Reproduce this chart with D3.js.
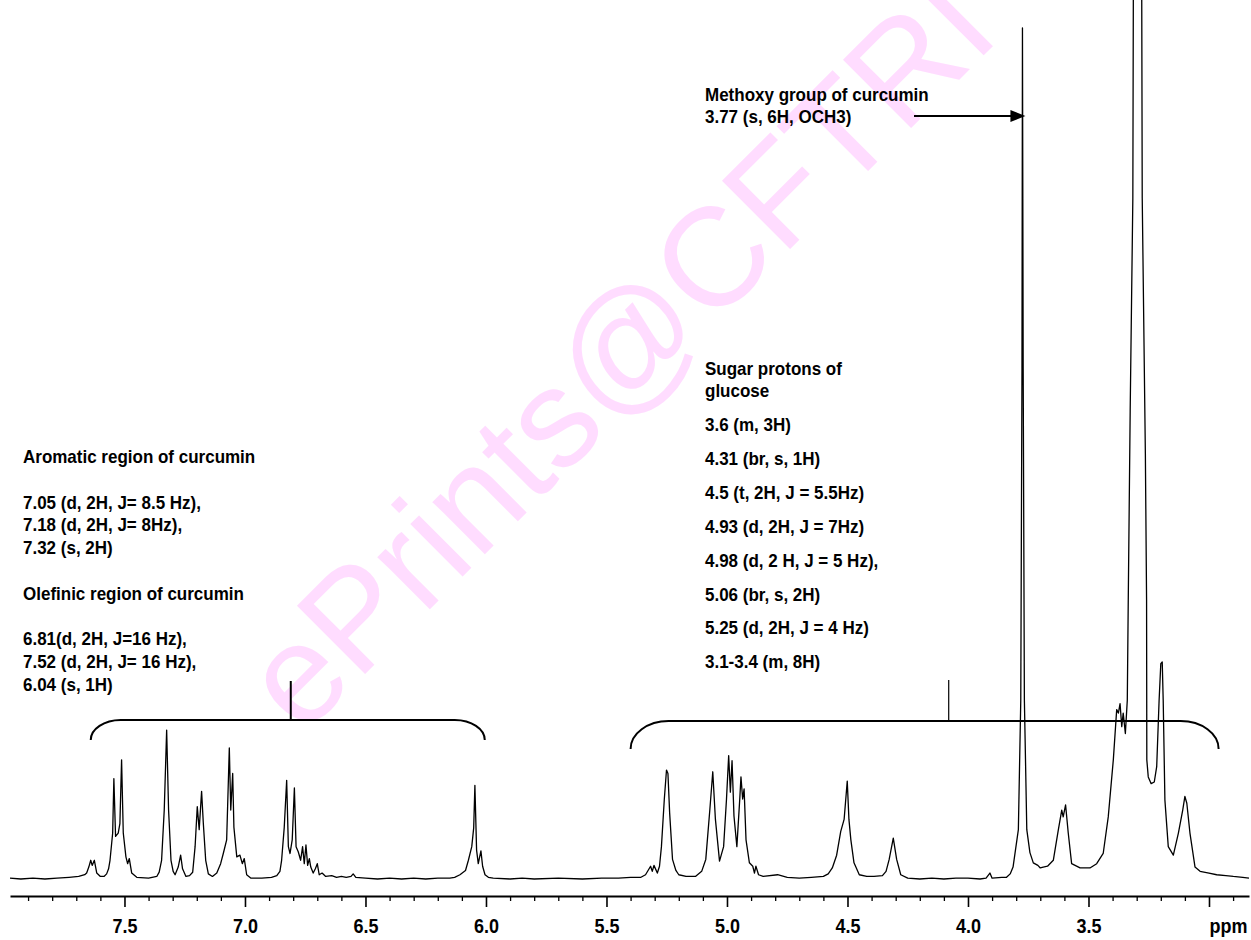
<!DOCTYPE html>
<html>
<head>
<meta charset="utf-8">
<script src="https://cdn.jsdelivr.net/npm/d3@7"></script>
<style>
  html, body { margin: 0; padding: 0; background: #fff; }
  svg { display: block; }
  text { font-family: "Liberation Sans", Arial, sans-serif; font-weight: bold; fill: #000; }
</style>
</head>
<body>
<div id="chart"></div>
<script>
// 1H NMR trace: [ppm, relative intensity] (methoxy singlet = 100)
const aromaticRegion = [
  [7.975, 0.1], [7.93, 0.0], [7.88, 0.1], [7.83, 0.0], [7.78, 0.1], [7.73, 0.2], [7.69, 0.3],
  [7.665, 0.5], [7.657, 0.7], [7.648, 1.4], [7.640, 2.2], [7.634, 1.6], [7.625, 2.2], [7.615, 0.7],
  [7.600, 0.3], [7.585, 0.3], [7.574, 0.6], [7.566, 1.2], [7.560, 2.2], [7.549, 5.4], [7.544, 11.8],
  [7.537, 5.0], [7.526, 5.4], [7.519, 6.5], [7.512, 14.0], [7.505, 5.4], [7.494, 2.6], [7.487, 1.8],
  [7.480, 2.4], [7.470, 0.7], [7.449, 0.2], [7.40, 0.1], [7.366, 0.3], [7.356, 0.8], [7.346, 2.2],
  [7.335, 8.1], [7.325, 17.5], [7.317, 8.1], [7.307, 2.2], [7.298, 0.9], [7.290, 0.5], [7.277, 1.4],
  [7.267, 2.8], [7.259, 1.2], [7.245, 0.3], [7.230, 0.4], [7.217, 0.8], [7.207, 3.8], [7.198, 8.5],
  [7.190, 5.8], [7.180, 10.3], [7.173, 6.6], [7.163, 2.2], [7.152, 0.6], [7.135, 0.3], [7.117, 0.7],
  [7.101, 1.8], [7.090, 3.0], [7.076, 4.6], [7.065, 15.4], [7.059, 8.1], [7.051, 12.4], [7.046, 6.1],
  [7.034, 2.6], [7.021, 2.8], [7.011, 1.8], [7.003, 2.4], [6.993, 0.5], [6.975, 0.1]
];

const olefinicRegion = [
  [6.93, 0.1], [6.89, 0.2], [6.868, 0.4], [6.855, 0.9], [6.848, 2.2], [6.837, 6.1], [6.827, 11.6],
  [6.820, 3.8], [6.813, 3.0], [6.804, 4.6], [6.795, 10.7], [6.788, 3.8], [6.779, 3.2], [6.769, 2.2],
  [6.761, 3.8], [6.754, 1.8], [6.747, 4.0], [6.740, 1.6], [6.733, 2.4], [6.727, 1.4], [6.717, 0.7],
  [6.708, 1.2], [6.700, 1.8], [6.692, 0.5], [6.68, 0.7], [6.665, 0.3], [6.64, 0.4], [6.62, 0.2],
  [6.60, 0.3], [6.58, 0.2], [6.56, 0.3], [6.551, 0.6], [6.54, 0.2], [6.50, 0.1], [6.45, 0.0],
  [6.40, 0.1], [6.35, 0.0], [6.30, 0.1], [6.25, 0.0], [6.20, 0.1], [6.15, 0.1], [6.13, 0.2],
  [6.108, 0.5], [6.085, 1.0], [6.073, 2.2], [6.059, 3.8], [6.051, 6.0], [6.046, 11.0], [6.039, 3.4],
  [6.032, 1.8], [6.021, 3.3], [6.014, 1.5], [6.004, 0.5], [5.99, 0.2], [5.97, 0.1], [5.90, 0.0],
  [5.85, 0.1], [5.80, 0.0], [5.70, 0.1], [5.60, 0.0], [5.52, 0.1]
];

const sugarRegion = [
  [5.45, 0.1], [5.40, 0.2], [5.357, 0.2], [5.338, 0.5], [5.317, 1.5], [5.310, 0.9], [5.303, 1.6],
  [5.289, 0.7], [5.280, 1.5], [5.272, 3.8], [5.260, 9.4], [5.251, 12.8], [5.245, 12.4], [5.238, 7.8],
  [5.226, 2.3], [5.212, 1.0], [5.200, 0.5], [5.17, 0.3], [5.131, 0.3], [5.105, 0.9], [5.088, 2.3],
  [5.071, 8.2], [5.059, 12.6], [5.048, 7.0], [5.031, 2.1], [5.014, 3.8], [5.002, 9.4], [4.993, 14.5],
  [4.986, 10.2], [4.979, 13.9], [4.971, 7.4], [4.959, 3.8], [4.947, 9.4], [4.942, 12.0], [4.935, 9.4],
  [4.929, 10.6], [4.921, 4.6], [4.907, 1.9], [4.893, 1.5], [4.886, 0.7], [4.880, 1.5], [4.869, 0.5],
  [4.85, 0.3], [4.79, 0.5], [4.75, 0.2], [4.70, 0.1], [4.65, 0.2], [4.60, 0.3], [4.58, 0.6],
  [4.563, 1.3], [4.545, 2.8], [4.528, 5.6], [4.514, 7.0], [4.501, 11.5], [4.494, 7.0], [4.486, 4.6],
  [4.473, 1.9], [4.451, 0.5], [4.42, 0.3], [4.39, 0.3], [4.355, 0.4], [4.340, 0.9], [4.327, 2.3],
  [4.310, 4.8], [4.296, 2.3], [4.279, 0.5], [4.25, 0.1], [4.20, 0.0], [4.15, 0.1], [4.10, 0.0],
  [4.05, 0.1], [4.00, 0.1], [3.95, 0.0], [3.925, 0.1], [3.909, 0.7], [3.90, 0.1], [3.86, 0.2]
];

const methoxyRegion = [
  [3.84, 0.2], [3.825, 0.6], [3.813, 1.4], [3.791, 5.8], [3.781, 21.0], [3.776, 60], [3.774, 100],
  [3.771, 60], [3.766, 21.0], [3.756, 5.8], [3.743, 3.1], [3.729, 1.9], [3.71, 1.6], [3.700, 1.3],
  [3.688, 1.4], [3.67, 1.5], [3.660, 1.8], [3.646, 2.2], [3.625, 5.8], [3.611, 8.1], [3.605, 7.3],
  [3.595, 8.7], [3.584, 5.4], [3.570, 1.8], [3.535, 1.3], [3.494, 1.3], [3.466, 1.8], [3.439, 3.0],
  [3.418, 7.3], [3.397, 14.0], [3.383, 19.9], [3.376, 19.5], [3.369, 20.6], [3.362, 17.9],
  [3.356, 19.5], [3.347, 17.1], [3.339, 21.0], [3.335, 32.8], [3.327, 55], [3.316, 80], [3.314, 103],
  [3.311, 140], [3.282, 140], [3.279, 103], [3.277, 80], [3.264, 50], [3.259, 32.8], [3.258, 14.0],
  [3.252, 12.0], [3.240, 11.2], [3.227, 11.4], [3.217, 13.2], [3.207, 21.0], [3.200, 25.3],
  [3.194, 25.5], [3.190, 21.0], [3.183, 9.3], [3.169, 3.8], [3.148, 2.8], [3.127, 5.4], [3.109, 8.1],
  [3.100, 9.7], [3.092, 8.9], [3.079, 5.4], [3.058, 1.4], [3.037, 0.9], [3.00, 0.7], [2.968, 0.5],
  [2.93, 0.4], [2.899, 0.3], [2.86, 0.2], [2.834, 0.1]
];

// axis ticks
const majorTicks = [7.5, 7.0, 6.5, 6.0, 5.5, 5.0, 4.5, 4.0, 3.5, 3.0];
const majorLabels = ['7.5', '7.0', '6.5', '6.0', '5.5', '5.0', '4.5', '4.0', '3.5', 'ppm'];
const minorTicks = [7.9, 7.8, 7.7, 7.6, 7.4, 7.3, 7.2, 7.1, 6.9, 6.8, 6.7, 6.6, 6.4, 6.3, 6.2, 6.1,
  5.9, 5.8, 5.7, 5.6, 5.4, 5.3, 5.2, 5.1, 4.9, 4.8, 4.7, 4.6, 4.4, 4.3, 4.2, 4.1, 3.9, 3.8, 3.7, 3.6,
  3.4, 3.3, 3.2, 3.1, 2.9];

// annotations
const curcuminNotes = ['Aromatic region of curcumin', '', '7.05 (d, 2H, J= 8.5 Hz),', '7.18 (d, 2H, J= 8Hz),',
  '7.32 (s, 2H)', '', 'Olefinic region of curcumin', '', '6.81(d, 2H, J=16 Hz),', '7.52 (d, 2H, J= 16 Hz),',
  '6.04 (s, 1H)'];
const sugarTitle = ['Sugar protons of', 'glucose'];
const sugarNotes = ['3.6 (m, 3H)', '4.31 (br, s, 1H)', '4.5 (t, 2H, J = 5.5Hz)', '4.93 (d, 2H, J = 7Hz)',
  '4.98 (d, 2 H, J = 5 Hz),', '5.06 (br, s, 2H)', '5.25 (d, 2H, J = 4 Hz)', '3.1-3.4 (m, 8H)'];
const methoxyNotes = ['Methoxy group of curcumin', '3.77 (s, 6H, OCH3)'];
const methoxyShift = 3.77;
const curcuminBracket = { from: 7.64, to: 6.005, mark: 6.81 };
const sugarBracket = { from: 5.40, to: 2.96, mark: 4.08 };

const width = 1251;
const height = 940;
const axisY = 896;

const svg = d3.select('#chart')
  .append('svg')
  .attr('width', width)
  .attr('height', height);

const x = d3.scaleLinear().domain([7.975, 2.834]).range([10, 1249]);
const y = d3.scaleLinear().domain([0, 100]).range([879, 28]);

// watermark
svg.append('text')
  .attr('transform', 'translate(302,737) rotate(-45)')
  .style('font-weight', 'normal')
  .style('font-size', '140px')
  .style('fill', '#ffdcff')
  .text('ePrints@CFTRI');

// spectrum
const spectrum = [].concat(aromaticRegion, olefinicRegion, sugarRegion, methoxyRegion);
const line = d3.line()
  .x(d => x(d[0]))
  .y(d => y(d[1]));

svg.append('path')
  .datum(spectrum)
  .attr('fill', 'none')
  .attr('stroke', '#000')
  .attr('stroke-width', 1.3)
  .attr('stroke-linejoin', 'round')
  .attr('d', line);

// brackets
function bracket(b, yLine, rx, ry, markTop, markWidth) {
  const x0 = x(b.from), x1 = x(b.to);
  svg.append('path')
    .attr('fill', 'none')
    .attr('stroke', '#000')
    .attr('stroke-width', 2)
    .attr('d', `M${x0},${yLine + ry} A${rx},${ry} 0 0 1 ${x0 + rx},${yLine} L${x1 - rx},${yLine} A${rx},${ry} 0 0 1 ${x1},${yLine + ry}`);
  svg.append('line')
    .attr('x1', x(b.mark)).attr('x2', x(b.mark))
    .attr('y1', yLine).attr('y2', markTop)
    .attr('stroke', '#000')
    .attr('stroke-width', markWidth);
}
bracket(curcuminBracket, 720, 30, 20, 681, 2);
bracket(sugarBracket, 721, 38, 28, 680, 1.2);

// arrow to methoxy peak
const tipX = x(methoxyShift) + 2;
svg.append('line')
  .attr('x1', 914).attr('x2', tipX - 13)
  .attr('y1', 116).attr('y2', 116)
  .attr('stroke', '#000')
  .attr('stroke-width', 2);
svg.append('path')
  .attr('d', `M${tipX},116 L${tipX - 15},110 L${tipX - 15},122 Z`)
  .attr('fill', '#000');

// text blocks
function textLine(tx, ty, s) {
  svg.append('text')
    .attr('transform', `translate(${tx},${ty}) scale(1,1.1)`)
    .style('font-size', '17px')
    .text(s);
}
curcuminNotes.forEach((s, i) => { if (s) textLine(23, 463 + i * 22.8, s); });
methoxyNotes.forEach((s, i) => textLine(705, 101 + i * 22, s));
sugarTitle.forEach((s, i) => textLine(705, 375 + i * 22, s));
sugarNotes.forEach((s, i) => textLine(705, 431 + i * 33.9, s));

// x axis
const minorAxis = d3.axisBottom(x)
  .tickValues(minorTicks)
  .tickSize(5)
  .tickSizeOuter(0)
  .tickFormat('');
const gMinor = svg.append('g')
  .attr('transform', `translate(0,${axisY})`)
  .call(minorAxis);
gMinor.select('.domain').attr('stroke-width', 2.2);
gMinor.selectAll('.tick line').attr('stroke-width', 1.3);

const majorAxis = d3.axisBottom(x)
  .tickValues(majorTicks)
  .tickSize(11)
  .tickSizeOuter(0)
  .tickFormat((d, i) => majorLabels[i]);
const gMajor = svg.append('g')
  .attr('transform', `translate(0,${axisY})`)
  .call(majorAxis);
gMajor.select('.domain').remove();
gMajor.selectAll('.tick line').attr('stroke-width', 1.6);
gMajor.selectAll('.tick text')
  .attr('y', null)
  .attr('dy', null)
  .attr('transform', 'translate(0,37) scale(1,1.12)')
  .style('font-family', '"Liberation Sans", Arial, sans-serif')
  .style('font-weight', 'bold')
  .style('font-size', '18px');
gMajor.selectAll('.tick text')
  .filter((d, i) => majorLabels[i] === 'ppm')
  .attr('text-anchor', 'start');
</script>
</body>
</html>
